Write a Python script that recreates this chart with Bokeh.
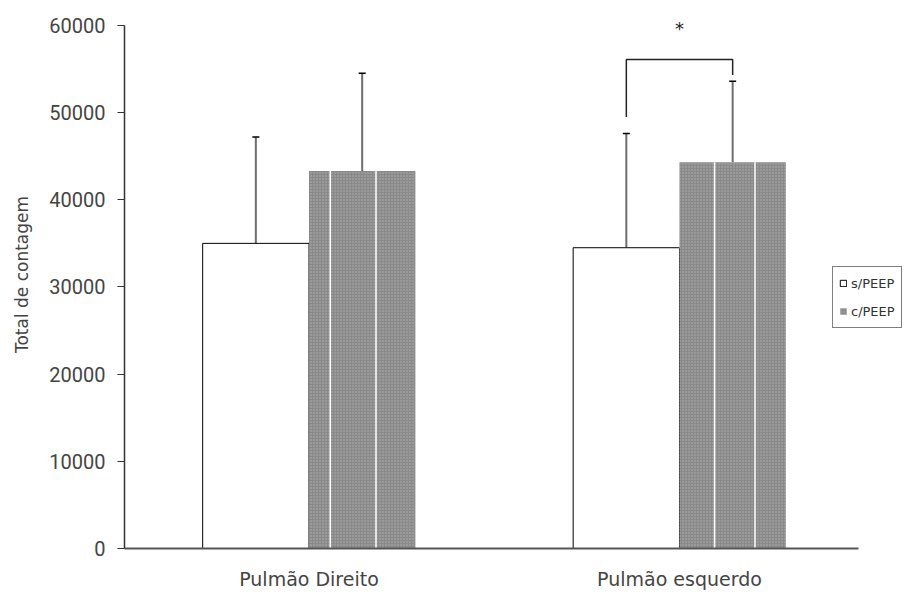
from bokeh.plotting import figure
from bokeh.models import (Range1d, FixedTicker, Whisker, ColumnDataSource, Legend,
                          LegendItem, TeeHead, Label, NumeralTickFormatter)
from bokeh.embed import file_html
from bokeh.resources import INLINE

# ---- data ----
groups = ["Pulmão Direito", "Pulmão esquerdo"]
series = ["s/PEEP", "c/PEEP"]
s_peep = [35000, 34500]
s_peep_err_top = [47200, 47600]
c_peep = [43300, 44300]
c_peep_err_top = [54500, 53600]
bracket_y = [49500, 56100, 54300]   # left end, top, right end
star_y = 59700
star_text = "*"
yticks = [0, 10000, 20000, 30000, 40000, 50000, 60000]
ylabel = "Total de contagem"

# ---- layout helpers ----
group_x = [1, 2]
bw = 0.287
x_s = [g - bw / 2 for g in group_x]
x_c = [g + bw / 2 for g in group_x]
sep_frac = [[0.2, 0.63], [0.33, 0.71]]   # white separator lines in the patterned bars

p = figure(width=904, height=592, x_range=Range1d(0.502, 2.6073), y_range=Range1d(0, 62857),
           output_backend="svg", toolbar_location=None,
           min_border_left=124, min_border_right=0, min_border_top=0, min_border_bottom=42)
p.outline_line_color = None
p.xgrid.visible = False
p.ygrid.visible = False

r_s = p.vbar(x=x_s, top=s_peep, bottom=0, width=bw, fill_color="white",
             line_color="black", line_width=1)
r_c = p.vbar(x=x_c, top=c_peep, bottom=0, width=bw, fill_color="#8a8a8a",
             line_color=None, hatch_pattern="dot", hatch_color="#b0b0b0",
             hatch_scale=3, hatch_weight=1)

sx0, sy0, sx1, sy1 = [], [], [], []
for i, fr in enumerate(sep_frac):
    for f in fr:
        xx = x_c[i] - bw / 2 + f * bw
        sx0.append(xx); sx1.append(xx); sy0.append(0); sy1.append(c_peep[i])
p.segment(x0=sx0, y0=sy0, x1=sx1, y1=sy1, line_color="white", line_width=1.5)

err_src = ColumnDataSource(dict(
    base=x_s + x_c,
    lower=s_peep + c_peep,
    upper=s_peep_err_top + c_peep_err_top,
))
w = Whisker(base="base", lower="lower", upper="upper", source=err_src,
            line_color="#6e6e6e", line_width=2,
            upper_head=TeeHead(size=7, line_color="black", line_width=1.5),
            lower_head=None)
p.add_layout(w)

# significance bracket
p.line(x=[x_s[1], x_s[1], x_c[1], x_c[1]],
       y=[bracket_y[0], bracket_y[1], bracket_y[1], bracket_y[2]],
       line_color="#222222", line_width=1.5)
p.add_layout(Label(x=group_x[1], y=star_y, text=star_text, text_align="center",
                   text_baseline="alphabetic", text_font_size="18px", text_color="#222222",
                   text_font="DejaVu Sans"))

# axes
p.yaxis.ticker = FixedTicker(ticks=yticks)
p.yaxis.bounds = (yticks[0], yticks[-1])
p.yaxis.formatter = NumeralTickFormatter(format="0")
p.yaxis.minor_tick_line_color = None
p.yaxis.major_tick_out = 7
p.yaxis.major_tick_in = 0
p.yaxis.major_label_standoff = 12
p.yaxis.major_label_text_font = "Roboto"
p.yaxis.major_label_text_font_size = "20px"
p.yaxis.major_label_text_color = "#444444"
p.yaxis.axis_line_color = "#333333"
p.yaxis.axis_line_width = 1.5
p.yaxis.major_tick_line_color = "#333333"
p.yaxis.axis_label = ylabel
p.yaxis.axis_label_text_font = "DejaVu Sans"
p.yaxis.axis_label_text_font_size = "17px"
p.yaxis.axis_label_text_font_style = "normal"
p.yaxis.axis_label_text_color = "#444444"
p.yaxis.axis_label_standoff = 14

p.xaxis.ticker = FixedTicker(ticks=group_x)
p.xaxis.bounds = (0.502, 2.483)
p.xaxis.major_label_overrides = {group_x[0]: groups[0], group_x[1]: groups[1]}
p.xaxis.minor_tick_line_color = None
p.xaxis.major_tick_line_color = None
p.xaxis.major_tick_out = 0
p.xaxis.major_tick_in = 0
p.xaxis.major_label_standoff = 19
p.xaxis.major_label_text_font = "DejaVu Sans"
p.xaxis.major_label_text_font_size = "19px"
p.xaxis.major_label_text_color = "#444444"
p.xaxis.axis_line_color = "#555555"
p.xaxis.axis_line_width = 2

legend = Legend(items=[LegendItem(label=series[0], renderers=[r_s]),
                       LegendItem(label=series[1], renderers=[r_c])],
                location=(708, 220), border_line_color="black", border_line_width=1,
                padding=6, spacing=8, glyph_width=8, glyph_height=8, label_standoff=4,
                label_height=20, label_text_font="DejaVu Sans", label_text_font_size="13px",
                label_text_color="#333333", margin=0, background_fill_color="white")
p.add_layout(legend, "center")

open("out.html", "w").write(file_html(p, INLINE))
